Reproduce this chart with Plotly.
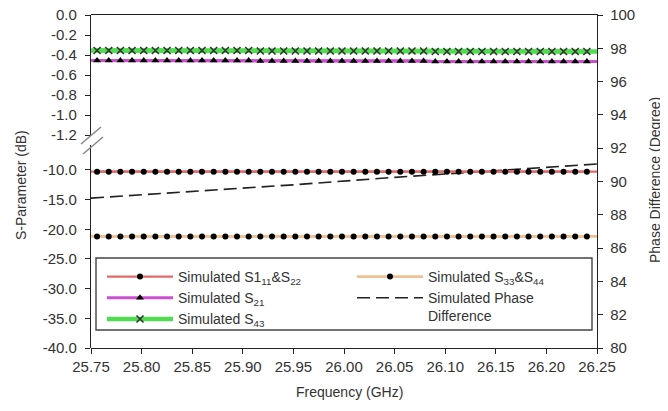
import numpy as np
import plotly.graph_objects as go

# ---------------- data ----------------
freq_ticks = [25.75, 25.80, 25.85, 25.90, 25.95, 26.00, 26.05, 26.10, 26.15, 26.20, 26.25]
freq_tick_text = ["25.75", "25.80", "25.85", "25.90", "25.95", "26.00",
                  "26.05", "26.10", "26.15", "26.20", "26.25"]

# marker sample frequencies (GHz)
freq_marks = np.linspace(25.756, 26.240, 43)

s11_db = [-10.30, -10.30, -10.30, -10.30, -10.30, -10.30, -10.30, -10.30, -10.30, -10.30,
          -10.30, -10.30, -10.30, -10.30, -10.30, -10.30, -10.30, -10.30, -10.30, -10.30,
          -10.30, -10.30, -10.30, -10.30, -10.30, -10.30, -10.30, -10.30, -10.30, -10.30,
          -10.30, -10.30, -10.30, -10.30, -10.30, -10.30, -10.30, -10.30, -10.30, -10.30,
          -10.30, -10.30, -10.30]
s21_db = [-0.455, -0.455, -0.455, -0.455, -0.455, -0.455, -0.455, -0.455, -0.455, -0.455,
          -0.455, -0.455, -0.455, -0.455, -0.460, -0.460, -0.460, -0.460, -0.460, -0.460,
          -0.460, -0.460, -0.460, -0.460, -0.460, -0.460, -0.460, -0.460, -0.460, -0.465,
          -0.465, -0.465, -0.465, -0.465, -0.465, -0.465, -0.465, -0.465, -0.465, -0.465,
          -0.465, -0.465, -0.465]
s43_db = [-0.355, -0.355, -0.355, -0.355, -0.355, -0.355, -0.355, -0.355, -0.355, -0.355,
          -0.355, -0.355, -0.355, -0.355, -0.360, -0.360, -0.360, -0.360, -0.360, -0.360,
          -0.360, -0.360, -0.360, -0.360, -0.360, -0.360, -0.360, -0.360, -0.360, -0.365,
          -0.365, -0.365, -0.365, -0.365, -0.365, -0.365, -0.365, -0.365, -0.365, -0.365,
          -0.365, -0.365, -0.365]
s33_db = [-21.20, -21.20, -21.20, -21.20, -21.20, -21.20, -21.20, -21.20, -21.20, -21.20,
          -21.20, -21.20, -21.20, -21.20, -21.20, -21.20, -21.20, -21.20, -21.20, -21.20,
          -21.20, -21.20, -21.20, -21.20, -21.20, -21.20, -21.20, -21.20, -21.20, -21.20,
          -21.20, -21.20, -21.20, -21.20, -21.20, -21.20, -21.20, -21.20, -21.20, -21.20,
          -21.20, -21.20, -21.20]

phase_freq = [25.75, 25.85, 25.95, 26.05, 26.15, 26.25]
phase_deg = [89.00, 89.40, 89.80, 90.25, 90.65, 91.05]

left_lower_ticks = [-40, -35, -30, -25, -20, -15, -10]
left_lower_text = ["-40.0", "-35.0", "-30.0", "-25.0", "-20.0", "-15.0", "-10.0"]
left_upper_ticks = [-1.2, -1.0, -0.8, -0.6, -0.4, -0.2, 0.0]
left_upper_text = ["-1.2", "-1.0", "-0.8", "-0.6", "-0.4", "-0.2", "0.0"]
right_ticks = [80, 82, 84, 86, 88, 90, 92, 94, 96, 98, 100]
right_text = ["80", "82", "84", "86", "88", "90", "92", "94", "96", "98", "100"]

# ---------------- layout helpers ----------------
# the page places the figure 8 px in from the top-left corner
OFF = 8
W, H = 668 - OFF, 411 - OFF
# plot-area edges in window pixels
PL, PR, PT, PB = 91, 597, 15, 348


def px_x(px):
    return (px - PL) / (PR - PL)


def px_y(py):
    return (PB - py) / (PB - PT)


FONT = "Liberation Sans, Arial, sans-serif"
TXT = "#333333"
AX = "#222222"

fig = go.Figure()

x_min, x_max = freq_ticks[0], freq_ticks[-1]

series = [
    ("Simulated S1<sub>11</sub>&amp;S<sub>22</sub>", s11_db, "y2", "#e06a6a", 2.2,
     dict(symbol="circle", size=6, color="black"), "legend"),
    ("Simulated S<sub>21</sub>", s21_db, "y3", "#cc4fd0", 3.0,
     dict(symbol="triangle-up", size=7, color="black"), "legend"),
    ("Simulated S<sub>43</sub>", s43_db, "y3", "#4fdc4f", 4.5,
     dict(symbol="x-thin", size=7, color="#333333", line=dict(width=1.6, color="#333333")), "legend"),
    ("Simulated S<sub>33</sub>&amp;S<sub>44</sub>", s33_db, "y2", "#f0c195", 2.6,
     dict(symbol="circle", size=6, color="black"), "legend2"),
]

for name, vals, yax, col, wid, mk, lg in series:
    fig.add_trace(go.Scatter(
        x=[x_min] + list(freq_marks) + [x_max], y=[vals[0]] + list(vals) + [vals[-1]],
        mode="lines", line=dict(color=col, width=wid), yaxis=yax,
        showlegend=False, hoverinfo="skip"))
    fig.add_trace(go.Scatter(
        x=freq_marks, y=vals, mode="lines+markers", name=name,
        line=dict(color=col, width=wid), marker=mk, yaxis=yax, legend=lg))

fig.add_trace(go.Scatter(
    x=phase_freq, y=phase_deg, mode="lines", name="Simulated Phase<br>Difference",
    line=dict(color="#222222", width=1.6, dash="13px,6px"), yaxis="y", legend="legend2"))

tickfont = dict(family=FONT, size=15, color=TXT)
common_axis = dict(showline=True, linecolor=AX, linewidth=1.3, ticks="outside",
                   tickcolor=AX, tickwidth=1.2, showgrid=False, zeroline=False,
                   tickfont=tickfont, automargin=False, ticklabeloverflow="allow")

legend_common = dict(xanchor="left", yanchor="top", bgcolor="rgba(0,0,0,0)",
                     font=dict(family=FONT, size=14, color=TXT), itemwidth=66,
                     tracegroupgap=0, borderwidth=0, valign="top")

fig.update_layout(
    width=W, height=H,
    margin=dict(l=PL - OFF, r=W - (PR - OFF), t=PT - OFF, b=H - (PB - OFF), autoexpand=False),
    paper_bgcolor="white", plot_bgcolor="rgba(0,0,0,0)",
    font=dict(family=FONT, color=TXT),
    xaxis=dict(domain=[0, 1], range=[x_min, x_max], anchor="y", mirror=True,
               tickvals=freq_ticks, ticktext=freq_tick_text, ticklen=5,
               ticklabelstandoff=0, **common_axis),
    yaxis=dict(domain=[0, 1], range=[80, 100], side="right", anchor="x",
               tickvals=right_ticks, ticktext=right_text, ticklen=5,
               ticklabelstandoff=4, **common_axis),
    yaxis2=dict(domain=[0, px_y(145)], range=[-40, -5.8], side="left", anchor="x",
                tickvals=left_lower_ticks, ticktext=left_lower_text, ticklen=5,
                ticklabelstandoff=5, **common_axis),
    yaxis3=dict(domain=[px_y(136), 1], range=[-1.21, 0], side="left", anchor="x",
                tickvals=left_upper_ticks, ticktext=left_upper_text, ticklen=5,
                ticklabelstandoff=5, **common_axis),
    legend=dict(x=px_x(102), y=px_y(261), **legend_common),
    legend2=dict(x=px_x(352), y=px_y(261), **legend_common),
    showlegend=True,
)

fig.add_shape(type="rect", xref="paper", yref="paper",
              x0=px_x(96), x1=px_x(592), y0=px_y(330), y1=px_y(258),
              line=dict(color="#444444", width=1.4), fillcolor="rgba(0,0,0,0)", layer="above")

for (xa, ya, xb, yb) in [(81, 144, 101, 127), (83, 154, 103, 137)]:
    fig.add_shape(type="line", xref="paper", yref="paper",
                  x0=px_x(xa), y0=px_y(ya), x1=px_x(xb), y1=px_y(yb),
                  line=dict(color="#8a8a8a", width=1.6))

ann_common = dict(xref="paper", yref="paper", showarrow=False,
                  xanchor="center", yanchor="middle",
                  font=dict(family=FONT, size=14, color=TXT))
fig.add_annotation(text="S-Parameter (dB)", x=px_x(21), y=px_y(185), textangle=-90, **ann_common)
fig.add_annotation(text="Phase Difference (Degree)", x=px_x(655), y=px_y(180), textangle=-90,
                   **ann_common)
fig.add_annotation(text="Frequency (GHz)", x=px_x(349), y=px_y(392), **ann_common)

fig.write_html("out.html")
